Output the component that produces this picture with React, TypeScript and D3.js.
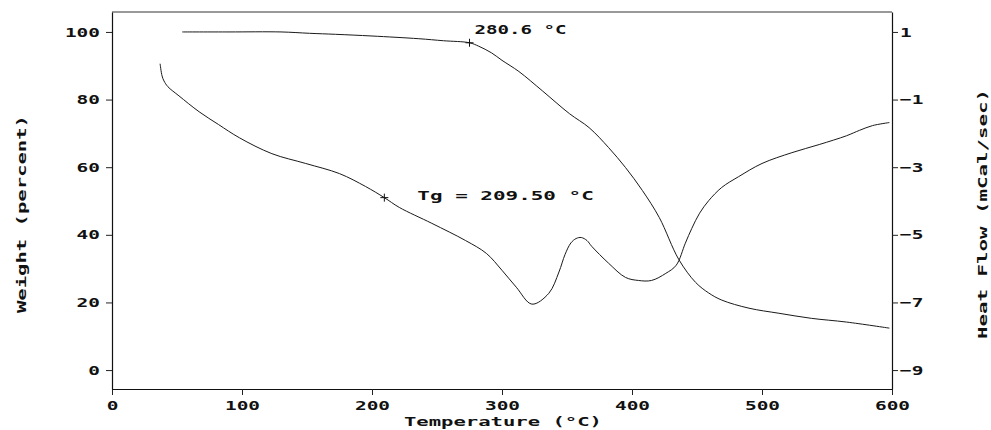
import React, { useEffect, useRef } from "react";
import * as d3 from "d3";

// TGA curve: temperature (ºC) -> weight (%)
const weightTemps = [54, 90, 130, 152, 172, 200, 236, 255, 275, 282, 292, 300, 313, 331, 352, 367, 382, 395, 408, 421, 436, 449, 459, 469, 490, 513, 538, 565, 598];
const weightValues = [100, 100, 100, 99.6, 99.3, 98.8, 98.0, 97.4, 96.8, 95.8, 93.8, 91.6, 88.3, 82.6, 75.8, 71.7, 65.8, 59.9, 53.1, 45.1, 32.7, 25.9, 22.8, 20.7, 18.3, 16.8, 15.3, 14.2, 12.4];

// DSC curve: temperature (ºC) -> heat flow (mCal/sec)
const heatTemps = [37, 38.5, 40, 43, 51.5, 67, 82, 98, 123, 149, 175, 195, 209.5, 221, 246, 272, 288, 300, 311, 323, 336, 343.8, 348.5, 353, 357, 361, 365.4, 369, 382, 395, 405, 415, 426, 434, 441, 446, 452, 459, 469, 482, 500, 523, 544, 565, 575, 585, 598];
const heatValues = [0.06, -0.3, -0.45, -0.62, -0.89, -1.36, -1.74, -2.13, -2.6, -2.89, -3.19, -3.57, -3.9, -4.19, -4.66, -5.17, -5.55, -6.05, -6.55, -7.05, -6.73, -6.1, -5.58, -5.24, -5.11, -5.08, -5.17, -5.34, -5.84, -6.26, -6.35, -6.35, -6.14, -5.9, -5.25, -4.81, -4.36, -3.99, -3.6, -3.28, -2.89, -2.57, -2.33, -2.07, -1.91, -1.77, -1.68];

const xTicks = [0, 100, 200, 300, 400, 500, 600];
const weightTicks = [0, 20, 40, 60, 80, 100];
const heatTicks = [1, -1, -3, -5, -7, -9];

// marked points
const onsetMark = { t: 275, w: 96.8, label: "280.6 \u00b0C" };
const tgMark = { t: 209.5, h: -3.9, label: "Tg = 209.50 \u00b0C" };

const FONT = "'DejaVu Sans Mono', 'Liberation Mono', monospace";

const App = () => {
  const svgRef = useRef(null);

  useEffect(() => {
    document.body.style.margin = "0";
    const svg = d3.select(svgRef.current);
    svg.selectAll("*").remove();

    const width = 991;
    const height = 430;
    const margin = { top: 12, right: 99, bottom: 41, left: 112 };

    const x = d3.scaleLinear().domain([0, 600]).range([margin.left, width - margin.right]);
    const yW = d3.scaleLinear().domain([-5.6, 105.9]).range([height - margin.bottom, margin.top]);
    const yH = d3.scaleLinear().domain([-9.56, 1.59]).range([height - margin.bottom, margin.top]);

    // stretch the mono font out wide like the plotter font
    const stretch = (sel, pitch) =>
      sel
        .attr("textLength", function () {
          return (this.textContent || "").length * pitch;
        })
        .attr("lengthAdjust", "spacingAndGlyphs");

    const styleAxis = (g) => {
      g.attr("font-family", FONT).attr("font-size", 13).attr("font-weight", "bold");
      g.selectAll("path.domain").attr("stroke", "#111").attr("stroke-width", 1.2);
      g.selectAll(".tick line").attr("stroke", "#222");
      g.selectAll(".tick text").attr("fill", "#111").call(stretch, 11.7);
    };

    svg.append("rect").attr("width", width).attr("height", height).attr("fill", "white");

    // top frame line
    svg
      .append("line")
      .attr("x1", margin.left)
      .attr("x2", width - margin.right)
      .attr("y1", margin.top)
      .attr("y2", margin.top)
      .attr("stroke", "#333")
      .attr("stroke-width", 1);

    svg
      .append("g")
      .attr("transform", `translate(0, ${height - margin.bottom})`)
      .call(d3.axisBottom(x).tickValues(xTicks).tickSize(6).tickSizeOuter(0).tickPadding(6))
      .call(styleAxis);

    svg
      .append("g")
      .attr("transform", `translate(${margin.left}, 0)`)
      .call(d3.axisLeft(yW).tickValues(weightTicks).tickSize(6).tickSizeOuter(0).tickPadding(6))
      .call(styleAxis);

    svg
      .append("g")
      .attr("transform", `translate(${width - margin.right}, 0)`)
      .call(
        d3
          .axisRight(yH)
          .tickValues(heatTicks)
          .tickSize(6)
          .tickSizeOuter(0)
          .tickPadding(2)
          .tickFormat((d) => (d < 0 ? "\u2212" + Math.abs(d) : String(d)))
      )
      .call(styleAxis);

    // curves
    const weightData = weightTemps.map((t, i) => [t, weightValues[i]]);
    const heatData = heatTemps.map((t, i) => [t, heatValues[i]]);

    svg
      .append("path")
      .datum(weightData)
      .attr("fill", "none")
      .attr("stroke", "#1a1a1a")
      .attr("stroke-width", 1)
      .attr(
        "d",
        d3
          .line()
          .x((d) => x(d[0]))
          .y((d) => yW(d[1]))
          .curve(d3.curveCatmullRom.alpha(0.5))
      );

    svg
      .append("path")
      .datum(heatData)
      .attr("fill", "none")
      .attr("stroke", "#1a1a1a")
      .attr("stroke-width", 1)
      .attr(
        "d",
        d3
          .line()
          .x((d) => x(d[0]))
          .y((d) => yH(d[1]))
          .curve(d3.curveCatmullRom.alpha(0.5))
      );

    // plus markers + labels
    const plus = "M-4,0H4M0,-4V4";
    const textStyle = (sel) =>
      sel
        .attr("font-family", FONT)
        .attr("font-size", 13)
        .attr("font-weight", "bold")
        .attr("fill", "#111");

    const ox = x(onsetMark.t);
    const oy = yW(onsetMark.w);
    svg.append("path").attr("d", plus).attr("transform", `translate(${ox}, ${oy})`).attr("stroke", "#111");
    svg
      .append("text")
      .attr("x", ox + 5)
      .attr("y", oy - 9)
      .text(onsetMark.label)
      .call(textStyle)
      .call(stretch, 11.5);

    const tx = x(tgMark.t);
    const ty = yH(tgMark.h);
    svg.append("path").attr("d", plus).attr("transform", `translate(${tx}, ${ty})`).attr("stroke", "#111");
    svg
      .append("text")
      .attr("x", tx + 33)
      .attr("y", ty + 2)
      .text(tgMark.label)
      .call(textStyle)
      .call(stretch, 12.6);

    // axis titles
    svg
      .append("text")
      .attr("x", (margin.left + width - margin.right) / 2 + 1)
      .attr("y", 426)
      .attr("text-anchor", "middle")
      .text("Temperature (\u00b0C)")
      .call(textStyle)
      .attr("textLength", 198)
      .attr("lengthAdjust", "spacingAndGlyphs");

    svg
      .append("text")
      .attr("transform", "translate(26, 214) rotate(-90)")
      .attr("text-anchor", "middle")
      .text("Weight (percent)")
      .call(textStyle)
      .attr("textLength", 198)
      .attr("lengthAdjust", "spacingAndGlyphs");

    svg
      .append("text")
      .attr("transform", "translate(987, 214) rotate(-90)")
      .attr("text-anchor", "middle")
      .text("Heat Flow (mCal/sec)")
      .call(textStyle)
      .attr("textLength", 250)
      .attr("lengthAdjust", "spacingAndGlyphs");
  }, []);

  return <svg ref={svgRef} width={991} height={430} style={{ display: "block" }}></svg>;
};

export default App;
